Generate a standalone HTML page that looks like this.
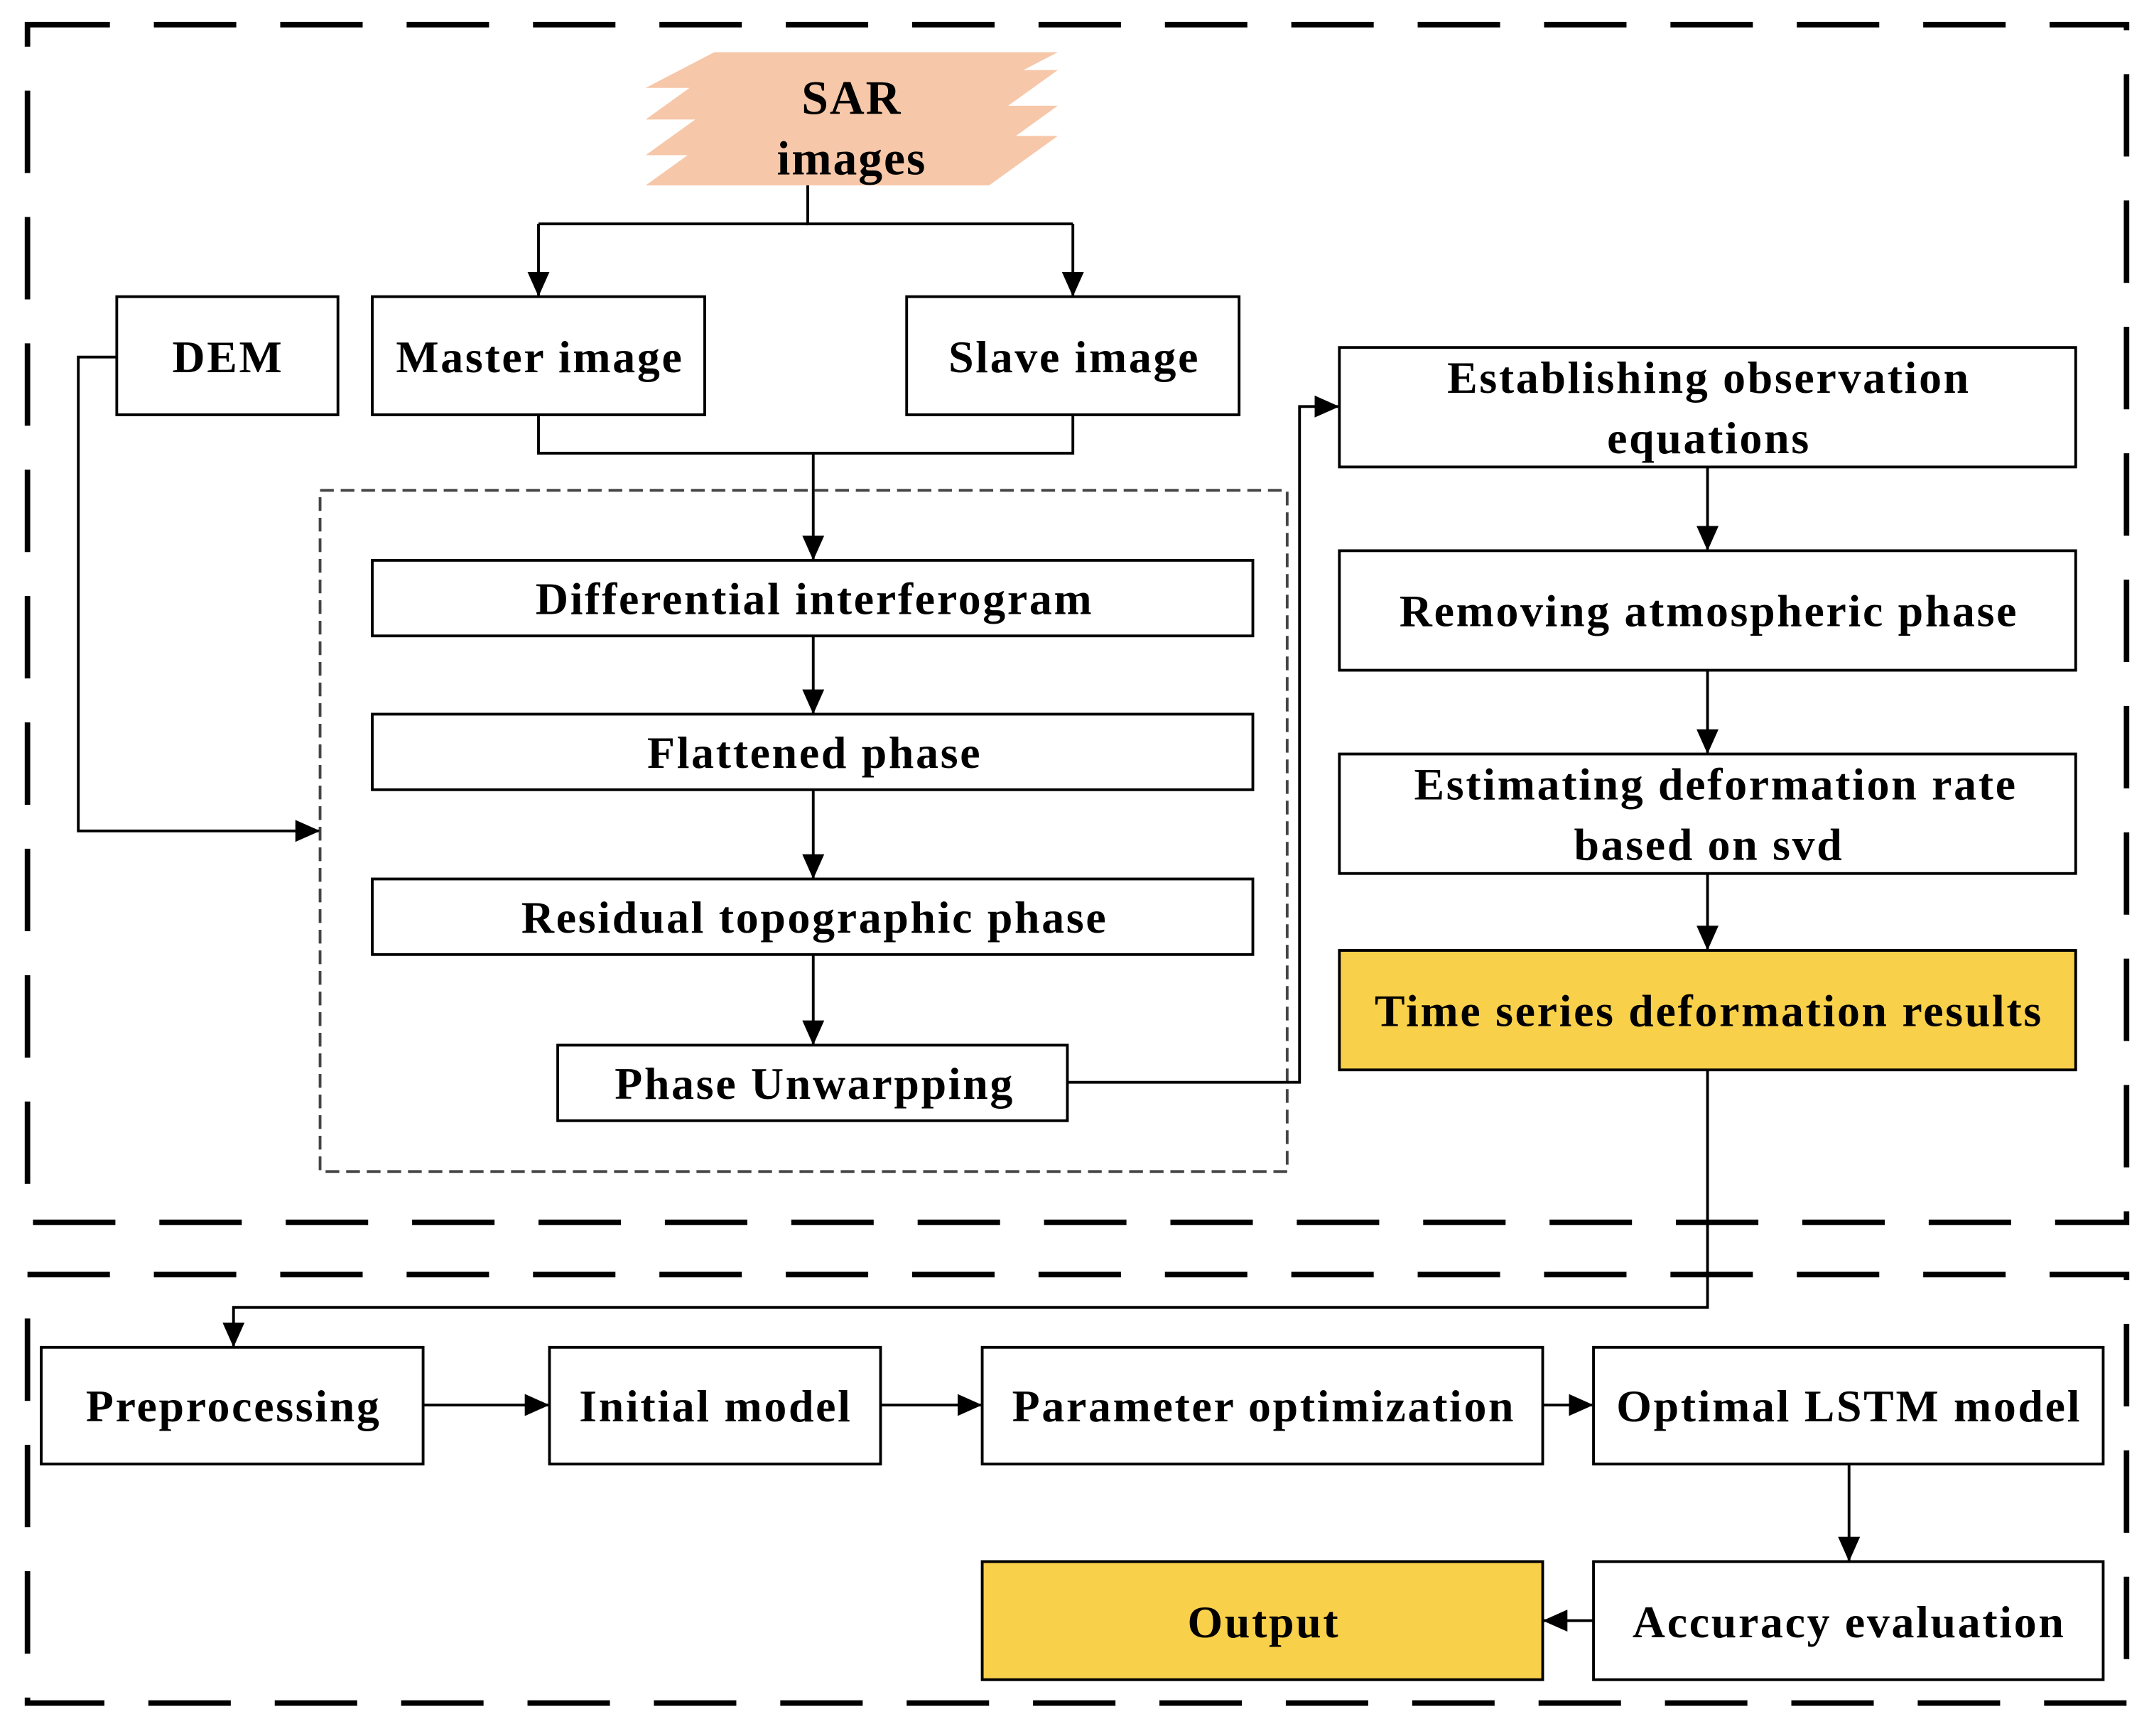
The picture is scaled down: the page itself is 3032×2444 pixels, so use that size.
<!DOCTYPE html>
<html><head><meta charset="utf-8"><style>
html,body{margin:0;padding:0;background:#fff;}
svg{display:block;}
text{font-family:"Liberation Serif",serif;font-weight:bold;fill:#000;}
</style></head><body>
<svg width="3032" height="2444" viewBox="0 0 1568 1264" preserveAspectRatio="none" xmlns="http://www.w3.org/2000/svg">
<defs>
<marker id="b" markerWidth="18" markerHeight="16" refX="17" refY="8" orient="auto" markerUnits="userSpaceOnUse" viewBox="0 0 18 16">
<path d="M0,0 L18,8 L0,16 z" fill="#000"/></marker>
</defs>
<g stroke="#000" stroke-width="4" fill="none" stroke-dasharray="60,32">
<rect x="20" y="18" width="1528" height="872"/>
<rect x="20" y="928" width="1528" height="312"/>
</g>
<rect x="233" y="357" width="704" height="496" fill="none" stroke="#444" stroke-width="2" stroke-dasharray="10,5"/>
<g fill="#f6c7a8">
<polygon points="470,135 520,99 770,99 720,135"/>
<polygon points="470,113 520,77 770,77 720,113"/>
<polygon points="470,87 520,51 770,51 720,87"/>
<polygon points="470,64 520,38 770,38 720,64"/>
</g>
<text x="620" y="83" font-size="35" text-anchor="middle" letter-spacing="1">SAR</text>
<text x="620" y="127" font-size="35" text-anchor="middle" letter-spacing="1">images</text>
<g stroke="#000" stroke-width="2" fill="#fff">
<rect x="85" y="216" width="161" height="86"/>
<rect x="271" y="216" width="242" height="86"/>
<rect x="660" y="216" width="242" height="86"/>
<rect x="271" y="408" width="641" height="55"/>
<rect x="271" y="520" width="641" height="55"/>
<rect x="271" y="640" width="641" height="55"/>
<rect x="406" y="761" width="371" height="55"/>
<rect x="975" y="253" width="536" height="87"/>
<rect x="975" y="401" width="536" height="87"/>
<rect x="975" y="549" width="536" height="87"/>
<rect x="975" y="692" width="536" height="87" fill="#f9d04a"/>
<rect x="30" y="981" width="278" height="85"/>
<rect x="400" y="981" width="241" height="85"/>
<rect x="715" y="981" width="408" height="85"/>
<rect x="1160" y="981" width="371" height="85"/>
<rect x="1160" y="1137" width="371" height="86"/>
<rect x="715" y="1137" width="408" height="86" fill="#f9d04a"/>
</g>
<g stroke="#000" stroke-width="2" fill="none">
<path d="M588,135 V163 H781"/>
<path d="M392,163 H588"/>
<path d="M392,163 V215" marker-end="url(#b)"/>
<path d="M781,163 V215" marker-end="url(#b)"/>
<path d="M392,302 V330 H781 V302"/>
<path d="M592,330 V407" marker-end="url(#b)"/>
<path d="M592,463 V519" marker-end="url(#b)"/>
<path d="M592,575 V639" marker-end="url(#b)"/>
<path d="M592,695 V760" marker-end="url(#b)"/>
<path d="M85,260 H57 V605 H232" marker-end="url(#b)"/>
<path d="M777,788 H946 V296 H974" marker-end="url(#b)"/>
<path d="M1243,340 V400" marker-end="url(#b)"/>
<path d="M1243,488 V548" marker-end="url(#b)"/>
<path d="M1243,636 V691" marker-end="url(#b)"/>
<path d="M1243,779 V952 H170 V980" marker-end="url(#b)"/>
<path d="M308,1023 H399" marker-end="url(#b)"/>
<path d="M641,1023 H714" marker-end="url(#b)"/>
<path d="M1123,1023 H1159" marker-end="url(#b)"/>
<path d="M1346,1066 V1136" marker-end="url(#b)"/>
<path d="M1160,1180 H1124" marker-end="url(#b)"/>
</g>
<g font-size="33" text-anchor="middle" letter-spacing="1.4">
<text x="166" y="271">DEM</text>
<text x="393" y="271">Master image</text>
<text x="782" y="271">Slave image</text>
<text x="593" y="447">Differential interferogram</text>
<text x="593" y="559">Flattened phase</text>
<text x="593" y="679">Residual topographic phase</text>
<text x="593" y="800">Phase Unwarpping</text>
<text x="1244" y="286">Establishing observation</text>
<text x="1244" y="330">equations</text>
<text x="1244" y="456">Removing atmospheric phase</text>
<text x="1249" y="582">Estimating deformation rate</text>
<text x="1244" y="626">based on svd</text>
<text x="1244" y="747">Time series deformation results</text>
<text x="170" y="1035">Preprocessing</text>
<text x="521" y="1035">Initial model</text>
<text x="920" y="1035">Parameter optimization</text>
<text x="1346" y="1035">Optimal LSTM model</text>
<text x="1346" y="1192">Accuracy evaluation</text>
<text x="920" y="1192">Output</text>
</g>
</svg>
</body></html>
